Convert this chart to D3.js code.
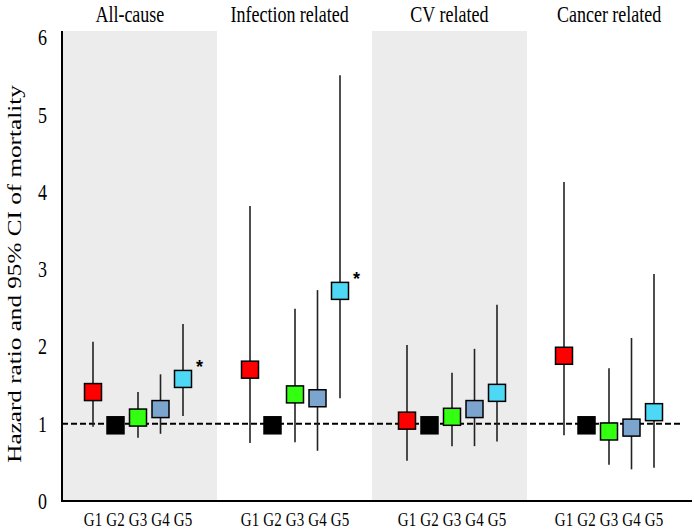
<!DOCTYPE html>
<html><head><meta charset="utf-8">
<script src="https://cdn.jsdelivr.net/npm/d3@7"></script>
<style>body{margin:0;background:#fff}svg{display:block}text{font-family:"Liberation Serif","Times New Roman",serif;fill:#000}</style>
</head><body><svg id="c" width="694" height="531"></svg>
<script>
const panels = ["All-cause", "Infection related", "CV related", "Cancer related"];
const groups = ["G1", "G2", "G3", "G4", "G5"];
const groupColors = ["#ff0000", "#000000", "#33ff11", "#7ba4cf", "#4dd9f5"];
const hr = [
  [1.41, 0.98, 1.08, 1.19, 1.58],
  [1.70, 0.98, 1.38, 1.33, 2.72],
  [1.04, 0.98, 1.09, 1.19, 1.40],
  [1.88, 0.98, 0.90, 0.95, 1.15]
];
const ciLow = [
  [0.96, null, 0.82, 0.87, 1.10],
  [0.75, null, 0.76, 0.65, 1.33],
  [0.52, null, 0.71, 0.71, 0.77],
  [0.85, null, 0.47, 0.41, 0.43]
];
const ciHigh = [
  [2.06, null, 1.41, 1.64, 2.29],
  [3.82, null, 2.49, 2.73, 5.51],
  [2.02, null, 1.66, 1.97, 2.54],
  [4.13, null, 1.72, 2.11, 2.94]
];
const significant = [
  [false, false, false, false, true],
  [false, false, false, false, true],
  [false, false, false, false, false],
  [false, false, false, false, false]
];
const yTicks = [0, 1, 2, 3, 4, 5, 6];
const yLabel = "Hazard ratio and 95% CI of mortality";

const stretch = 1.3;   // the reference text is drawn taller than wide
const labelStretch = 1.4;
const svg = d3.select("#c");
const y = d3.scaleLinear().domain([0, 6]).range([501, 37.5]);
const shade = d3.scaleBand().domain(panels).range([62, 682]);
const xPanel = d3.scaleBand().domain(panels).range([62, 690]);
const xTitle = d3.scaleBand().domain(panels).range([50, 689]);
const xGroup = d3.scalePoint().domain(groups).range([31, 121]);
const px = (p, g) => xPanel(p) + xGroup(g);
const yTop = 31;

// shaded panels
svg.selectAll("rect.shade").data(panels.filter((d, i) => i % 2 === 0)).join("rect")
  .attr("x", d => shade(d)).attr("width", shade.bandwidth())
  .attr("y", yTop).attr("height", y(0) - yTop).attr("fill", "#ececec");

// reference line
svg.append("line").attr("x1", 62).attr("x2", 680).attr("y1", y(1)).attr("y2", y(1))
  .attr("stroke", "#000").attr("stroke-width", 2).attr("stroke-dasharray", "6,3");

// y axis
const yAxis = d3.axisLeft(y).tickValues(yTicks).tickSize(0).tickPadding(15).tickFormat(d3.format("d"));
const ga = svg.append("g").attr("transform", "translate(62,0)").call(yAxis);
ga.select(".domain").remove();
ga.selectAll("text").attr("font-size", 18).attr("transform", `scale(1,${stretch})`);
svg.append("line").attr("x1", 62).attr("x2", 62).attr("y1", yTop).attr("y2", y(0) + 1)
  .attr("stroke", "#000").attr("stroke-width", 2);
svg.append("line").attr("x1", 61).attr("x2", 692).attr("y1", y(0)).attr("y2", y(0))
  .attr("stroke", "#000").attr("stroke-width", 2);

// y label
svg.append("text").attr("transform", `translate(21,274) rotate(-90) scale(${labelStretch},1)`)
  .attr("text-anchor", "middle").attr("font-size", 18).text(yLabel);

// titles
svg.selectAll("text.title").data(panels).join("text").attr("class", "title")
  .attr("transform", d => `translate(${xTitle(d) + xTitle.bandwidth() / 2},22) scale(1,${stretch})`)
  .attr("text-anchor", "middle").attr("font-size", 18).text(d => d);

// group labels
panels.forEach((p) => {
  svg.selectAll(null).data(groups).join("text")
    .attr("transform", g => `translate(${px(p, g)},526) scale(1,${stretch})`)
    .attr("text-anchor", "middle").attr("font-size", 15).text(g => g);
});

// points
const sq = 17;
panels.forEach((p, pi) => {
  const data = groups.map((g, gi) => ({ g, gi, v: hr[pi][gi], lo: ciLow[pi][gi], hi: ciHigh[pi][gi], s: significant[pi][gi] }));
  const gp = svg.append("g");
  gp.selectAll("line.ci").data(data.filter(d => d.lo !== null)).join("line")
    .attr("x1", d => px(p, d.g)).attr("x2", d => px(p, d.g))
    .attr("y1", d => y(d.lo)).attr("y2", d => y(d.hi))
    .attr("stroke", "#222").attr("stroke-width", 1.6);
  gp.selectAll("rect.pt").data(data).join("rect")
    .attr("x", d => px(p, d.g) - sq / 2).attr("y", d => y(d.v) - sq / 2)
    .attr("width", sq).attr("height", sq)
    .attr("fill", d => groupColors[d.gi]).attr("stroke", "#000").attr("stroke-width", 1.5);
  gp.selectAll("text.star").data(data.filter(d => d.s)).join("text")
    .attr("x", d => px(p, d.g) + 13).attr("y", d => y(d.v) - 6)
    .attr("font-size", 18).attr("font-weight", "bold").style("font-family", "Liberation Sans, Arial, sans-serif").text("*");
});
</script></body></html>
